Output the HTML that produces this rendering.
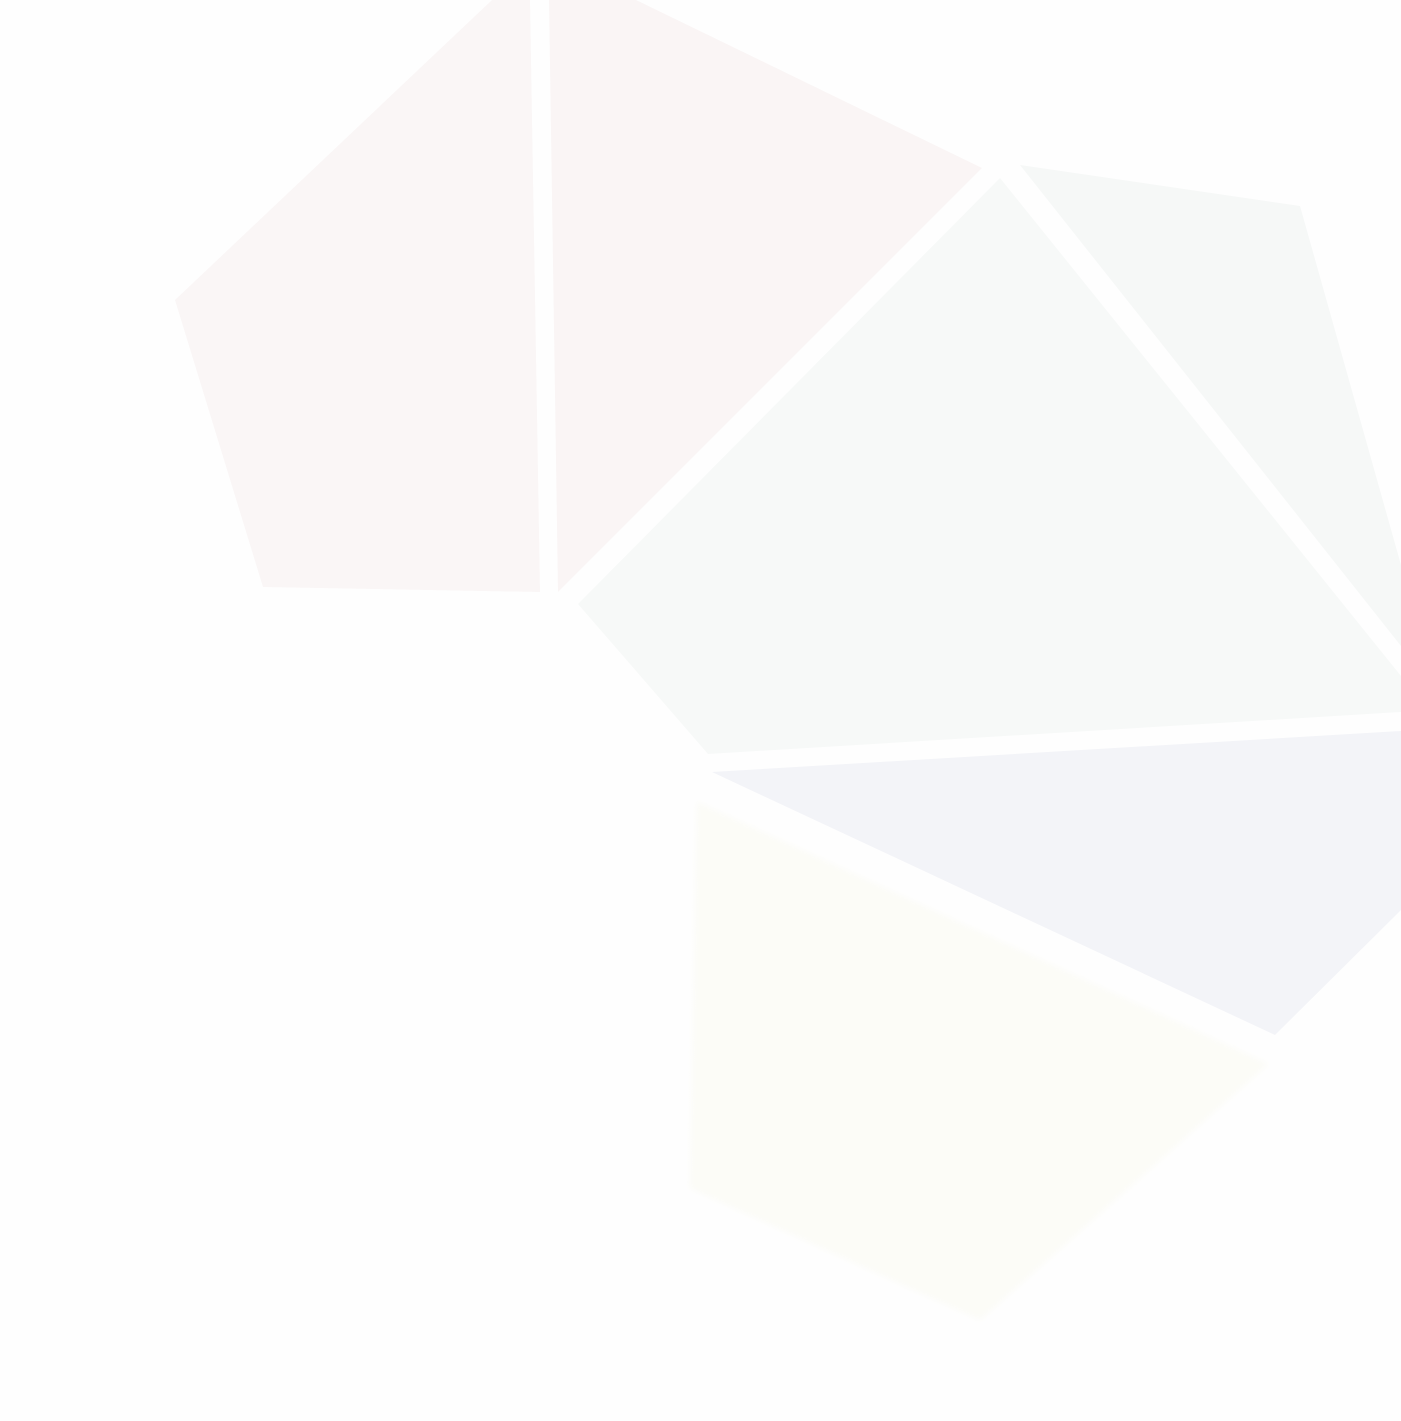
<!DOCTYPE html>
<html><head><meta charset="utf-8">
<style>
html,body{margin:0;padding:0;background:#fefefe;width:1401px;height:1421px;overflow:hidden}
svg{display:block}
</style></head>
<body>
<svg id="art" width="1401" height="1421" viewBox="0 0 1401 1421" xmlns="http://www.w3.org/2000/svg">
<defs><filter id="soft" x="-10%" y="-10%" width="120%" height="120%"><feGaussianBlur stdDeviation="3"/></filter></defs>
<rect width="1401" height="1421" fill="#fefefe"/>
</svg>
<script>
const pentagonPink=[[492,0],[530,0],[540,592],[263,587],[175,300]];
const trianglePink=[[549,0],[636,0],[982,168],[558,592]];
const quadGreenLarge=[[1000,178],[1401,676],[1401,712],[708,754],[578,604]];
const quadGreenRight=[[1020,165],[1300,206],[1401,565],[1401,646]];
const quadBlue=[[712,772],[1401,731],[1401,910],[1275,1035]];
const pentaYellow=[[697,802],[1268,1064],[980,1320],[690,1188]];
const shapes=[
 ['pink-pentagon',pentagonPink,'#faf6f6',false],
 ['pink-triangle',trianglePink,'#faf5f5',false],
 ['green-large-polygon',quadGreenLarge,'#f7f9f8',false],
 ['green-right-polygon',quadGreenRight,'#f6f8f7',false],
 ['blue-polygon',quadBlue,'#f3f4f8',false],
 ['yellow-polygon',pentaYellow,'#fcfcf7',true]
];
const svg=document.getElementById('art');
shapes.forEach(s=>{
 const p=document.createElementNS('http://www.w3.org/2000/svg','polygon');
 p.setAttribute('points',s[1].map(v=>v.join(',')).join(' '));
 p.setAttribute('fill',s[2]);
 if(s[3])p.setAttribute('filter','url(#soft)');
 
 
 svg.appendChild(p);
});
</script>
</body></html>
